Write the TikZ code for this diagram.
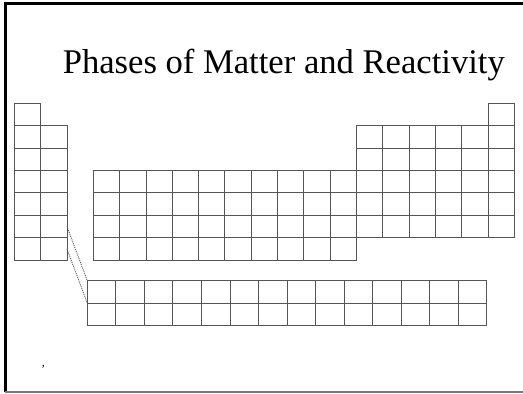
\documentclass[tikz,border=0pt]{standalone}
\usepackage{fontspec}
\setmainfont{Liberation Serif}
\usepackage{tikz}
\usetikzlibrary{positioning}
\definecolor{cellgray}{RGB}{85,85,85}
\definecolor{framegray}{RGB}{120,120,120}
\tikzset{
  cell/.style={rectangle, draw=cellgray, line width=0.8bp,
    minimum width=26.32bp, minimum height=22.39bp,
    inner sep=0pt, outer sep=0pt, anchor=north west},
  fcell/.style={cell, minimum width=28.53bp, minimum height=22.5bp},
  link/.style={dash pattern=on 1bp off 1bp, draw=cellgray, line width=0.9bp},
  title/.style={font=\fontsize{34.6bp}{40bp}\selectfont, anchor=base}
}

\begin{document}
\begin{tikzpicture}[x=1bp, y=-1bp]
  \useasboundingbox (0,0) rectangle (523,393);

  % Frame
  \draw[line width=2.5bp] (523,3.3) -- (5.3,3.3) -- (5.3,392);
  \draw[framegray, line width=1.5bp] (5.3,391.8) -- (523,391.8);

  % Title
  \node[title] (ttl) at (283.8,73.5) {Phases of Matter and Reactivity};

  % Main table: groups 1 and 2
  \foreach \c/\ra/\rb in {0/1/7, 1/2/7}
    \foreach \r in {\ra,...,\rb}
      \node[cell] (m-\r-\c) at ({14.3+\c*26.32}, {103.3+(\r-1)*22.39}) {};

  % Transition metals
  \foreach \c in {3,...,12}
    \foreach \r in {4,...,7}
      \node[cell] (m-\r-\c) at ({14.3+\c*26.32}, {103.3+(\r-1)*22.39}) {};

  % Right block
  \foreach \c in {13,...,18}
    \foreach \r in {2,...,6}
      \node[cell] (m-\r-\c) at ({14.3+\c*26.32}, {103.3+(\r-1)*22.39}) {};
  \node[cell] (m-1-18) at ({14.3+18*26.32}, 103.3) {};

  % Lower rows
  \foreach \c in {0,...,13}
    \foreach \r in {1,2}
      \node[fcell] (f-\r-\c) at ({87.3+\c*28.53}, {280.7+(\r-1)*22.5}) {};

  % Dotted links
  \draw[link] (m-6-1.east) -- (f-1-0.north west);
  \draw[link] (m-7-1.east) -- (f-1-0.south west);

  % Stray mark
  \node[font=\fontsize{12bp}{12bp}\selectfont, inner sep=0pt, anchor=base] (mark) at (43.3,366) {,};
\end{tikzpicture}
\end{document}
